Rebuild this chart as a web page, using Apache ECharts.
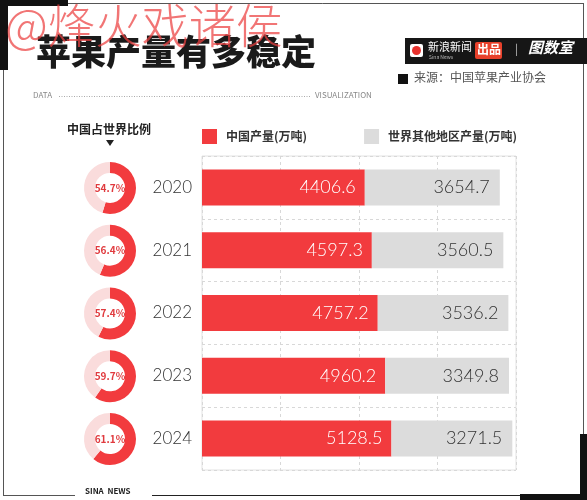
<!DOCTYPE html>
<html><head><meta charset="utf-8">
<script src="https://cdn.jsdelivr.net/npm/echarts@6/dist/echarts.min.js"></script>
<style>html,body{margin:0;padding:0;background:#fff}#c{width:587px;height:500px}</style>
</head><body><div id="c"></div>
<script>
var years = ['2020','2021','2022','2023','2024'];
var chinaOutput = [4406.6, 4597.3, 4757.2, 4960.2, 5128.5];
var otherOutput = [3654.7, 3560.5, 3536.2, 3349.8, 3271.5];
var chinaShare = [54.7, 56.4, 57.4, 59.7, 61.1];
var seriesNames = ['中国产量(万吨)', '世界其他地区产量(万吨)'];

var RED = '#f23b3e', GRAY = '#dcdcdc', PINK = '#fadcdc';
var gridTop = 156, gridH = 314, gridLeft = 202, gridW = 314;
var catH = gridH / years.length;
var font = '"Noto Sans CJK SC", "Noto Sans", sans-serif';
var numFont = 'Lato, "Open Sans", sans-serif';

var series = [
  {name: seriesNames[0], type: 'bar', stack: 't', barWidth: 36, data: chinaOutput,
   itemStyle: {color: RED},
   label: {show: true, position: 'insideRight', color: '#fff', fontSize: 18, fontWeight: 300, fontFamily: numFont, distance: 9,
     formatter: function(p){return p.value.toFixed(1);}}},
  {name: seriesNames[1], type: 'bar', stack: 't', barWidth: 36, data: otherOutput,
   itemStyle: {color: GRAY},
   label: {show: true, position: 'insideRight', color: '#333', fontSize: 18, fontWeight: 300, fontFamily: numFont, distance: 10,
     formatter: function(p){return p.value.toFixed(1);}}}
];
years.forEach(function(y, i){
  series.push({type: 'pie', radius: [15, 26], center: [110, gridTop + (i + 0.5) * catH + 0.5],
    startAngle: 90, clockwise: true, silent: true, emphasis: {disabled: true},
    labelLine: {show: false},
    data: [
      {value: chinaShare[i], itemStyle: {color: RED},
       label: {show: true, position: 'center', formatter: chinaShare[i].toFixed(1) + '%', color: '#e03a3e', fontSize: 10, fontWeight: 'bold', fontFamily: font}},
      {value: 100 - chinaShare[i], itemStyle: {color: PINK}, label: {show: false}}
    ]});
});

var graphic = [
  // frame
  {type: 'line', shape: {x1: 3.5, y1: 60, x2: 3.5, y2: 495}, style: {stroke: '#555', lineWidth: 1}},
  {type: 'line', shape: {x1: 62, y1: 3.5, x2: 583.5, y2: 3.5}, style: {stroke: '#555', lineWidth: 1}},
  {type: 'line', shape: {x1: 583.5, y1: 3, x2: 583.5, y2: 435}, style: {stroke: '#555', lineWidth: 1}},
  {type: 'line', shape: {x1: 3, y1: 495.5, x2: 75, y2: 495.5}, style: {stroke: '#555', lineWidth: 1}},
  {type: 'line', shape: {x1: 152, y1: 495.5, x2: 530, y2: 495.5}, style: {stroke: '#222', lineWidth: 1}},
  {type: 'rect', shape: {x: 0, y: 0, width: 8, height: 70}, style: {fill: '#111'}},
  {type: 'rect', shape: {x: 0, y: 0, width: 68, height: 6}, style: {fill: '#111'}},
  {type: 'rect', shape: {x: 580, y: 434, width: 7, height: 66}, style: {fill: '#111'}},
  {type: 'rect', shape: {x: 520, y: 494, width: 67, height: 6}, style: {fill: '#111'}},
  {type: 'text', left: 85, top: 487, style: {text: 'SINA  NEWS', fill: '#222', font: 'bold 8px ' + font}},
  // title
  {type: 'text', left: 36, top: 34, style: {text: '苹果产量有多稳定', fill: '#1a1a1a', font: '900 35px ' + font}},
  // watermark
  {type: 'text', left: 5, top: 2, z: 100, style: {text: '@烽火戏诸侯', fill: 'rgba(236,64,64,0.72)', font: '300 47px ' + font}},
  {type: 'text', left: 33, top: 91, style: {text: 'DATA', fill: '#888', font: '8px ' + font}},
  {type: 'line', shape: {x1: 59, y1: 96.5, x2: 311, y2: 96.5}, style: {stroke: '#aaa', lineWidth: 1, lineDash: [1, 1.5]}},
  {type: 'text', left: 315, top: 91, style: {text: 'VISUALIZATION', fill: '#888', font: '8px ' + font}},
  // sina box
  {type: 'rect', shape: {x: 405, y: 38, width: 182, height: 26}, style: {fill: '#161616'}},
  {type: 'rect', shape: {x: 410, y: 44, width: 13, height: 13, r: 2}, style: {fill: '#fff'}},
  {type: 'circle', shape: {cx: 416.5, cy: 50.5, r: 4.5}, style: {fill: '#e8322e'}},
  {type: 'text', left: 428, top: 41, style: {text: '新浪新闻', fill: '#fff', font: '11px ' + font}},
  {type: 'text', left: 429, top: 55, style: {text: 'Sina News', fill: '#bbb', font: '5px ' + font}},
  {type: 'rect', shape: {x: 475, y: 42, width: 27, height: 17, r: 2}, style: {fill: '#e8412b'}},
  {type: 'text', left: 477, top: 43, style: {text: '出品', fill: '#fff', font: 'bold 12px ' + font}},
  {type: 'text', left: 515, top: 43, style: {text: '|', fill: '#ccc', font: '11px ' + font}},
  {type: 'text', left: 528, top: 40, style: {text: '图数室', fill: '#fff', font: 'italic bold 15px ' + font}},
  {type: 'rect', shape: {x: 398, y: 74, width: 10, height: 10}, style: {fill: '#111'}},
  {type: 'text', left: 414, top: 71, style: {text: '来源：中国苹果产业协会', fill: '#555', font: '12px ' + font}},
  // donut header
  {type: 'text', left: 67, top: 123, style: {text: '中国占世界比例', fill: '#222', font: 'bold 12px ' + font}},
  {type: 'polygon', shape: {points: [[106, 140], [114, 140], [110, 146]]}, style: {fill: '#222'}}
];

var chart = echarts.init(document.getElementById('c'));
chart.setOption({
  backgroundColor: '#fff',
  animation: false,
  graphic: graphic,
  legend: {left: 197, top: 124, itemWidth: 15, itemHeight: 15, itemGap: 57, icon: 'rect', selectedMode: false,
    data: seriesNames,
    textStyle: {color: '#333', fontSize: 12, fontWeight: 'bold', fontFamily: font, padding: [0, 0, 0, 4]}},
  grid: {left: gridLeft, top: gridTop, width: gridW, height: gridH, show: true, borderColor: '#e2e2e2', borderWidth: 1},
  xAxis: {type: 'value', min: 0, max: 8500, interval: 2125,
    axisLabel: {show: false}, axisLine: {show: false}, axisTick: {show: false},
    splitLine: {show: true, lineStyle: {color: '#d8d8d8', type: [3, 3]}}},
  yAxis: {type: 'category', data: years, inverse: true,
    axisLine: {show: false}, axisTick: {show: false},
    axisLabel: {margin: 10, color: '#333', fontSize: 17, fontWeight: 300, fontFamily: numFont},
    splitLine: {show: true, lineStyle: {color: '#d8d8d8', type: [3, 3]}}},
  series: series
});
</script>
</body></html>
